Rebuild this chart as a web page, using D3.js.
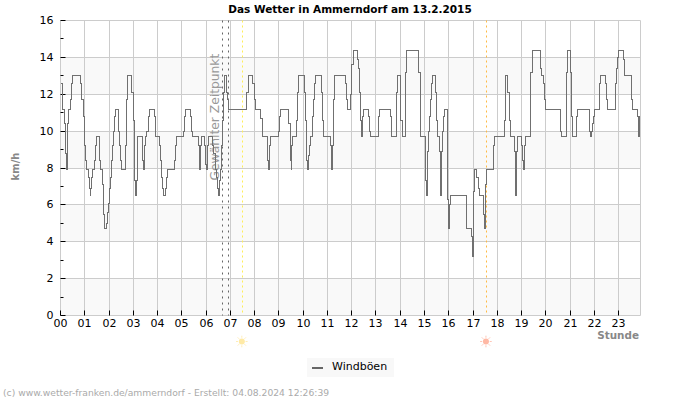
<!DOCTYPE html>
<html>
<head>
<meta charset="utf-8">
<script src="https://cdn.jsdelivr.net/npm/d3@7"></script>
<style>
	html, body { margin: 0; padding: 0; background: #fff; }
	text { font-family: "DejaVu Sans", sans-serif; }
</style>
</head>
<body>
<div id="chart"></div>
<script>
//------------------------------------------------------------------------------
const chartTitle = 'Das Wetter in Ammerndorf am 13.2.2015';
const copyright = '(c) www.wetter-franken.de/ammerndorf - Erstellt: 04.08.2024 12:26:39';
const seriesName = 'Windböen';
const hourTicks = d3.range(0, 24);
const kmhMajor = [0, 2, 4, 6, 8, 10, 12, 14, 16];
const kmhMinor = [1, 3, 5, 7, 9, 11, 13, 15];
const bands = [[0, 2], [4, 6], [8, 10], [12, 14]];
const selectedHours = [6.68, 6.93];
const sunriseHour = 7.50, sunsetHour = 17.56;
const lastHour = 23.9;

// [hour of day, km/h], each value holds until the next entry
const gustSteps = [
	[0.03,12.6],[0.07,11.7],[0.10,11.2],[0.17,10.4],[0.21,8.8],[0.26,7.9],[0.28,10.4],[0.34,11.2],[0.42,11.7],[0.46,12.6],[0.50,13],[0.83,12.6],[0.88,11.7],[0.93,10.8],[0.97,10],
	[1.00,9.2],[1.03,8.4],[1.06,7.9],[1.16,7.5],[1.20,6.9],[1.22,6.5],[1.25,6.9],[1.28,7.5],[1.32,7.9],[1.42,8.4],[1.46,9.2],[1.49,9.7],[1.60,9.2],[1.62,8.4],[1.65,7.9],[1.73,7.1],[1.78,5.5],[1.82,4.7],[1.90,5],[1.94,5.6],[1.98,6.1],
	[2.02,6.9],[2.07,7.5],[2.11,8.4],[2.15,9.2],[2.19,10],[2.23,10.8],[2.26,11.2],[2.37,10.8],[2.41,10],[2.45,9.2],[2.49,8.4],[2.52,7.9],[2.69,9.2],[2.73,11.7],[2.77,13],[2.93,12.1],
	[2.99,10.6],[3.03,8.9],[3.06,7.3],[3.09,6.5],[3.13,7.3],[3.16,8.9],[3.18,9.7],[3.36,9.2],[3.39,8.4],[3.42,7.9],[3.46,9.2],[3.51,9.7],[3.56,10],[3.64,10.8],[3.68,11.2],[3.86,10.8],[3.90,10],[3.93,9.7],
	[4.10,9.2],[4.14,8.4],[4.18,7.5],[4.22,6.9],[4.25,6.5],[4.33,6.9],[4.37,7.5],[4.41,7.9],[4.68,8.4],[4.72,9.2],[4.76,9.7],
	[5.06,10],[5.10,10.8],[5.15,11.2],[5.34,10.8],[5.38,10],[5.42,9.7],[5.67,9.2],[5.71,8.7],[5.74,7.9],[5.78,9.2],[5.82,9.7],[5.92,9.2],[5.96,8.2],
	[6.01,7.9],[6.06,9.2],[6.10,9.7],[6.26,9.2],[6.30,8.8],[6.37,7.9],[6.44,7.5],[6.47,6.9],[6.51,6.5],[6.56,7.3],[6.60,7.9],[6.64,9.2],[6.68,10.6],[6.71,12.1],[6.75,13],[6.85,12.1],[6.89,11.7],[6.93,11.2],
	[7.66,12.1],[7.74,13],[7.92,12.6],
	[7.98,11.7],[8.02,11.2],[8.24,10.7],[8.31,10],[8.34,9.7],[8.51,9.2],[8.54,8.4],[8.57,7.9],[8.61,9.2],[8.65,9.7],
	[9.00,10],[9.04,10.8],[9.08,11.2],[9.41,10.4],[9.46,9.2],[9.48,8.4],[9.50,7.9],[9.51,8.7],[9.53,9.2],[9.55,9.7],[9.73,10.6],[9.77,12.1],[9.81,13],
	[10.04,12.1],[10.08,10.6],[10.12,9.2],[10.15,8.4],[10.17,7.9],[10.21,8.7],[10.26,9.2],[10.30,9.7],[10.38,10.8],[10.44,11.7],[10.48,12.6],[10.52,13],[10.77,12.1],[10.81,10.6],[10.85,9.7],
	[11.11,9.2],[11.15,8.4],[11.18,7.9],[11.21,9.2],[11.25,11.7],[11.28,13],[11.75,12.6],[11.79,11.7],[11.83,11.2],
	[11.96,12],[12.01,13.6],[12.07,14.4],[12.23,13.9],[12.27,13.4],[12.32,12.1],[12.36,10.6],[12.40,9.7],[12.43,10.6],[12.45,10.8],[12.48,11.2],[12.69,10.8],[12.73,10],[12.76,9.7],
	[13.10,10.8],[13.14,11.2],[13.60,10.8],[13.63,10],[13.65,9.7],[13.85,12.1],[13.89,13],
	[14.03,10.6],[14.08,9.7],[14.21,13.2],[14.25,14.4],[14.77,13.2],[14.82,10.8],[14.84,9.7],
	[15.02,8.9],[15.06,7.3],[15.09,6.5],[15.12,7.3],[15.13,8.9],[15.16,10],[15.20,10.8],[15.24,11.7],[15.29,12.6],[15.33,13],[15.44,12.1],[15.48,10.6],[15.52,9.7],[15.60,8.9],[15.64,7.3],[15.67,6.5],[15.70,8.9],[15.73,10],[15.77,10.8],[15.81,11.2],
	[15.94,9.6],[15.96,6.3],[16.00,4.7],[16.03,6],[16.07,6.5],[16.71,5.1],[16.75,4.7],[16.93,4.3],
	[16.96,3.2],[17.00,4.3],[17.01,6.7],[17.05,7.9],[17.16,7.5],[17.21,6.9],[17.25,6.5],[17.43,5.5],[17.47,4.7],[17.51,5.5],[17.52,7.1],[17.55,7.9],[17.85,9.2],[17.89,9.7],
	[18.28,10.6],[18.32,12.1],[18.35,13],[18.43,12.1],[18.49,10.6],[18.53,9.7],[18.70,8.9],[18.74,7.3],[18.76,6.5],[18.79,8.9],[18.82,9.7],
	[19.01,9.2],[19.05,8.4],[19.08,7.9],[19.12,9.2],[19.16,9.7],[19.36,10.8],[19.38,13.2],[19.43,14.4],[19.78,13.4],[19.84,13],[19.90,12.6],
	[19.94,11.7],[20.00,11.2],[20.62,10],[20.66,9.7],[20.87,13.2],[20.91,14.4],
	[21.02,13.2],[21.06,10.8],[21.09,9.7],[21.28,10.8],[21.32,11.2],[21.78,10.8],[21.80,10],[21.83,9.7],[21.90,10],
	[21.93,10.4],[21.97,10.8],[22.00,11.2],[22.22,12.6],[22.26,13],[22.45,12.6],[22.50,11.7],[22.54,11.2],[22.87,12.6],
	[22.91,13.4],[22.95,14],[22.99,14.4],[23.19,13.9],[23.23,13],[23.53,11.7],[23.57,11.2],[23.78,10.8],[23.81,10],[23.83,9.7],[23.86,10.8],[23.89,10.8]
];

//------------------------------------------------------------------------------
const margin = {t: 20.5, r: 59.5, b: 84.5, l: 60.5},
	w = 700,
	h = 400,
	pw = w - margin.l - margin.r,
	ph = h - margin.t - margin.b;

var x = d3.scaleLinear().domain([0, lastHour]).range([0, pw]);
var y = d3.scaleLinear().domain([0, 16]).range([ph, 0]);

// snap to whole pixels so hairlines stay crisp
function sx(d) { return Math.round(x(d)); }
function sy(d) { return Math.round(y(d)); }

var root = d3.select('#chart').append('svg')
	.attr('width', w)
	.attr('height', h)
	.style('display', 'block');

root.append('text')
	.attr('x', 350)
	.attr('y', 13)
	.attr('text-anchor', 'middle')
	.attr('font-size', 10.5)
	.attr('font-weight', 'bold')
	.attr('fill', '#000')
	.text(chartTitle);

var svg = root.append('g')
	.attr('transform', 'translate(' + margin.l + ',' + margin.t + ')');

// alternating background bands
svg.selectAll('.band')
	.data(bands)
	.enter()
	.append('rect')
	.attr('class', 'band')
	.attr('x', 0)
	.attr('width', pw)
	.attr('y', function(d) { return sy(d[1]); })
	.attr('height', function(d) { return sy(d[0]) - sy(d[1]); })
	.attr('fill', '#f9f9f9');

// grid
svg.selectAll('.gx')
	.data(hourTicks.concat([lastHour]))
	.enter()
	.append('line')
	.attr('class', 'gx')
	.attr('x1', sx)
	.attr('x2', sx)
	.attr('y1', 0)
	.attr('y2', ph)
	.attr('stroke', '#ccc');

svg.selectAll('.gy')
	.data(kmhMajor)
	.enter()
	.append('line')
	.attr('class', 'gy')
	.attr('x1', 0)
	.attr('x2', pw)
	.attr('y1', sy)
	.attr('y2', sy)
	.attr('stroke', '#ccc');

// axes, ticks point into the plot
var xAxis = svg.append('g')
	.attr('transform', 'translate(0,' + ph + ')')
	.call(d3.axisBottom(x).tickValues(hourTicks).offset(0).tickSizeInner(-5).tickSizeOuter(0).tickPadding(3.4).tickFormat(d3.format('02d')));
xAxis.select('.domain').remove();
xAxis.selectAll('.tick').attr('transform', function(d) { return 'translate(' + sx(d) + ',0)'; });
xAxis.selectAll('text').attr('font-size', 11).attr('fill', '#000').style('font-family', '"DejaVu Sans", sans-serif');
xAxis.selectAll('line').attr('stroke', '#000');

var yAxis = svg.append('g')
	.call(d3.axisLeft(y).tickValues(kmhMajor).offset(0).tickSizeInner(-5).tickSizeOuter(0).tickPadding(7).tickFormat(d3.format('d')));
yAxis.select('.domain').remove();
yAxis.selectAll('.tick').attr('transform', function(d) { return 'translate(0,' + sy(d) + ')'; });
yAxis.selectAll('text').attr('font-size', 11).attr('fill', '#000').style('font-family', '"DejaVu Sans", sans-serif');
yAxis.selectAll('line').attr('stroke', '#000');

svg.selectAll('.minor')
	.data(kmhMinor)
	.enter()
	.append('line')
	.attr('class', 'minor')
	.attr('x1', 0)
	.attr('x2', 3)
	.attr('y1', sy)
	.attr('y2', sy)
	.attr('stroke', '#000');

// selected time and sun lines
svg.selectAll('.sel')
	.data(selectedHours)
	.enter()
	.append('line')
	.attr('class', 'sel')
	.attr('x1', sx)
	.attr('x2', sx)
	.attr('y1', 0)
	.attr('y2', ph)
	.attr('stroke', '#666')
	.attr('stroke-dasharray', '2,4');

svg.append('line')
	.attr('x1', sx(sunriseHour)).attr('x2', sx(sunriseHour))
	.attr('y1', 0).attr('y2', ph)
	.attr('stroke', '#ffee55')
	.attr('stroke-dasharray', '2,3');

svg.append('line')
	.attr('x1', sx(sunsetHour)).attr('x2', sx(sunsetHour))
	.attr('y1', 0).attr('y2', ph)
	.attr('stroke', '#ffbb44')
	.attr('stroke-dasharray', '2,3');

svg.append('text')
	.attr('transform', 'translate(' + (x(selectedHours[0]) - 4) + ',160)rotate(-90)')
	.attr('font-size', 12.3)
	.attr('fill', '#999')
	.text('Gewählter Zeitpunkt');

// gust line
var line = d3.line()
	.x(function(d) { return x(d[0]); })
	.y(function(d) { return y(d[1]); })
	.curve(d3.curveStepAfter);

svg.append('path')
	.datum(gustSteps)
	.attr('fill', 'none')
	.attr('stroke', '#707070')
	.attr('stroke-width', 1)
	.attr('shape-rendering', 'crispEdges')
	.attr('d', line);

// sun icons under the axis
function drawSun(hour, color) {
	var sun = svg.append('g').attr('transform', 'translate(' + (x(hour) - 0.7) + ',' + (ph + 26) + ')');
	sun.append('circle').attr('r', 3).attr('fill', color);
	sun.selectAll('line')
		.data(d3.range(0, 8))
		.enter()
		.append('line')
		.attr('x1', function(d) { return 3.8 * Math.cos(d * Math.PI / 4); })
		.attr('y1', function(d) { return 3.8 * Math.sin(d * Math.PI / 4); })
		.attr('x2', function(d) { return 5.8 * Math.cos(d * Math.PI / 4); })
		.attr('y2', function(d) { return 5.8 * Math.sin(d * Math.PI / 4); })
		.attr('stroke', color)
		.attr('opacity', 0.8);
}
drawSun(sunriseHour, '#ffeaa6');
drawSun(sunsetHour, '#ffb8a4');

// axis titles
root.append('text')
	.attr('transform', 'translate(19,166.5)rotate(-90)')
	.attr('text-anchor', 'middle')
	.attr('font-size', 10)
	.attr('font-weight', 'bold')
	.attr('fill', '#888')
	.text('km/h');

root.append('text')
	.attr('x', 639)
	.attr('y', 339)
	.attr('text-anchor', 'end')
	.attr('font-size', 10.4)
	.attr('font-weight', 'bold')
	.attr('fill', '#888')
	.text('Stunde');

// legend
root.append('rect')
	.attr('x', 307).attr('y', 358)
	.attr('width', 87).attr('height', 19)
	.attr('fill', '#f8f8f8');
root.append('line')
	.attr('x1', 312).attr('x2', 323)
	.attr('y1', 368).attr('y2', 368)
	.attr('stroke', '#666')
	.attr('stroke-width', 2);
root.append('text')
	.attr('x', 332)
	.attr('y', 370)
	.attr('font-size', 11)
	.attr('fill', '#000')
	.text(seriesName);

root.append('text')
	.attr('x', 3)
	.attr('y', 396)
	.attr('font-size', 9.2)
	.attr('fill', '#aaa')
	.text(copyright);
</script>
</body>
</html>
